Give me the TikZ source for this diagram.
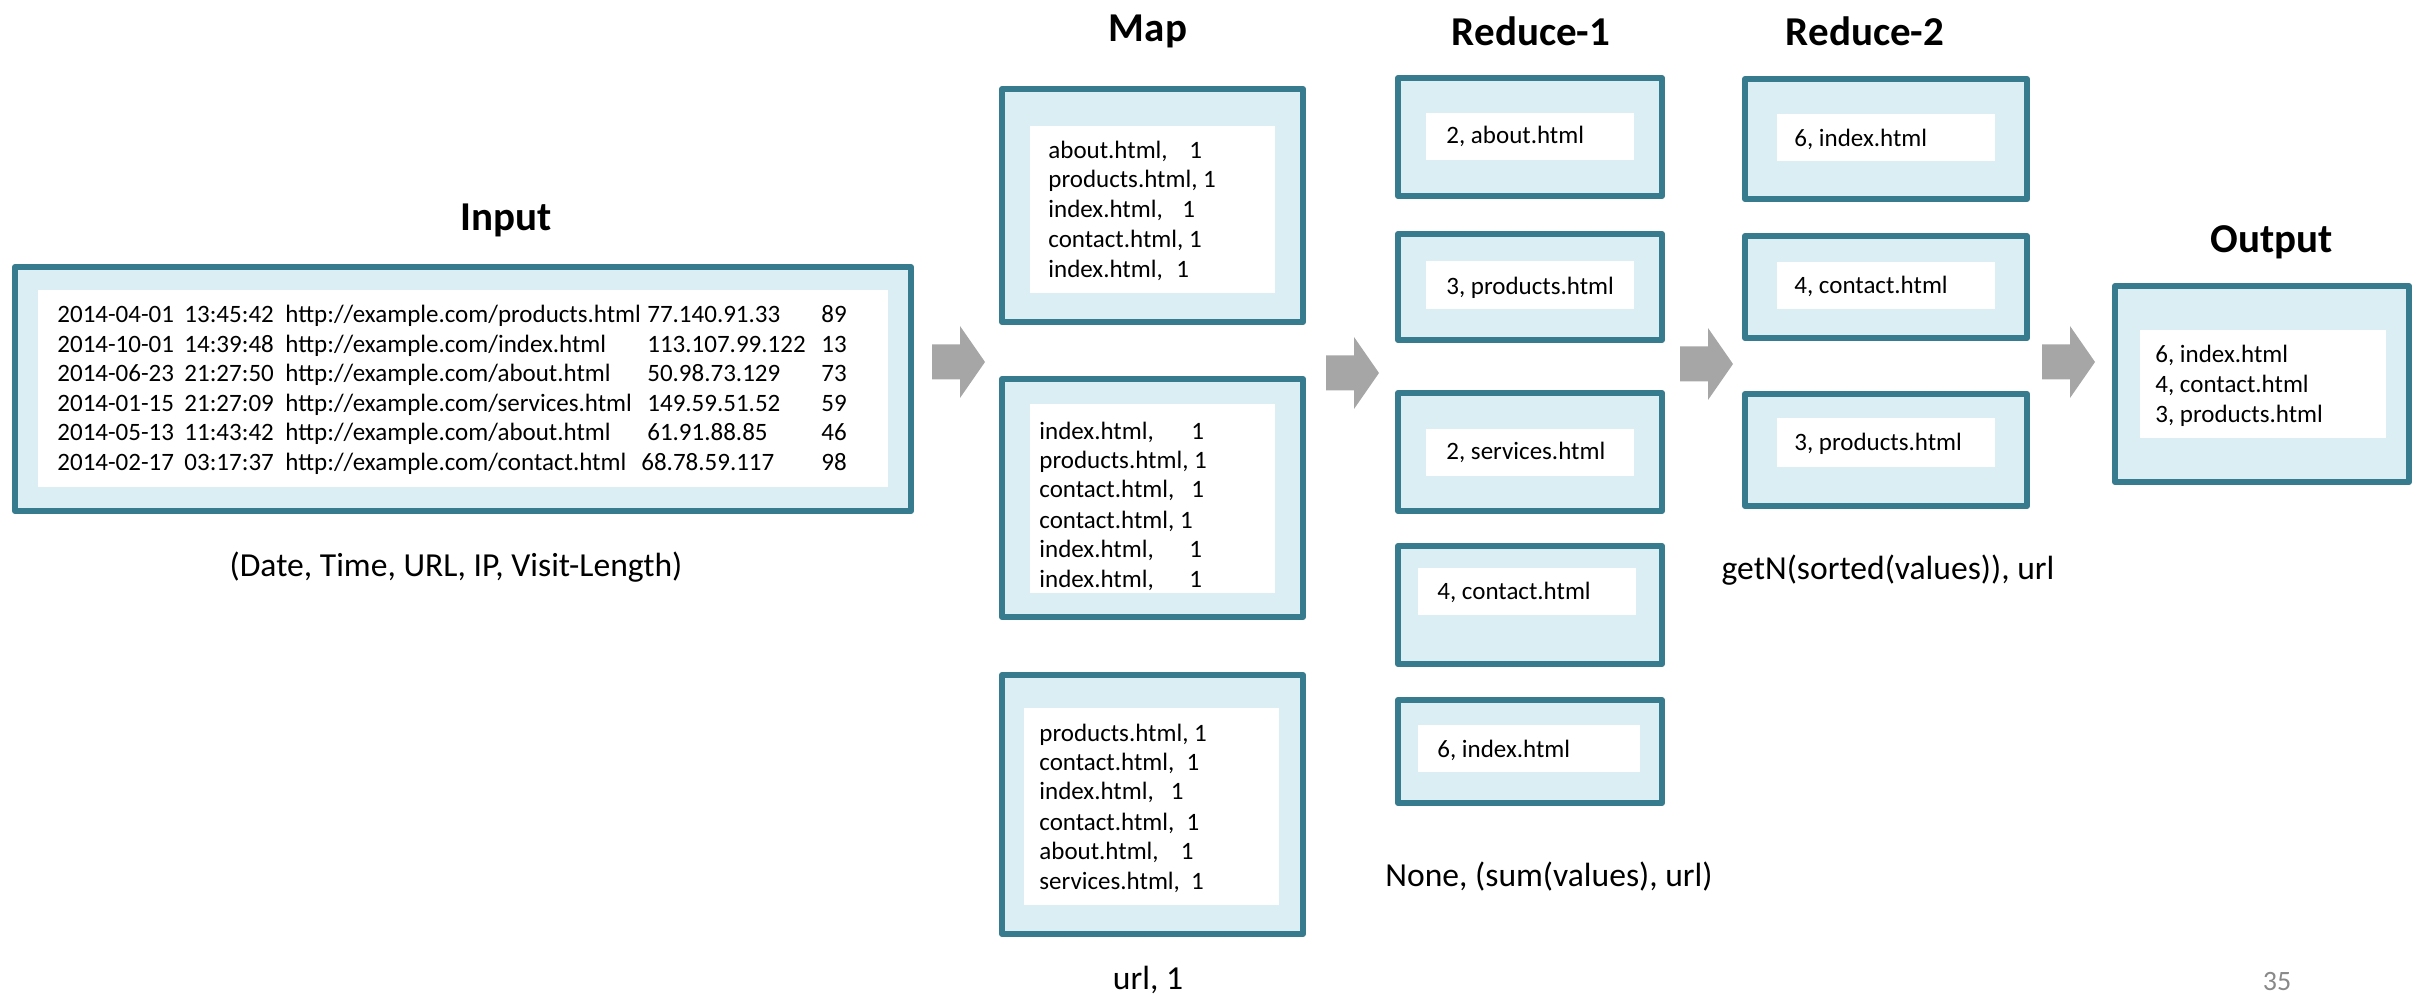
\documentclass[tikz,border=0pt]{standalone}
\usepackage{fontspec}
\setmainfont{Carlito}
\usetikzlibrary{fit}
\definecolor{bordc}{RGB}{54,124,142}
\definecolor{fillc}{RGB}{218,238,243}
\definecolor{arrc}{RGB}{166,166,166}
\definecolor{pgc}{RGB}{137,137,137}
\newcommand\inrow[5]{\makebox[63.5pt][l]{#1}\makebox[50.5pt][l]{#2}\makebox[181pt][l]{#3}\makebox[87pt][l]{#4}#5}
\newcommand\kv[2]{\makebox[#1][l]{#2}1}
\newcommand\blockarr[2]{\fill[arrc] (#1,#2-17.5) -- (#1+28,#2-17.5) -- (#1+28,#2-36) -- (#1+53,#2) -- (#1+28,#2+36) -- (#1+28,#2+17.5) -- (#1,#2+17.5) -- cycle;}
\begin{document}
\begin{tikzpicture}[x=0.5pt,y=-0.5pt,
 obox/.style={draw=bordc, fill=fillc, line width=3pt, inner sep=0pt, line join=round},
 wbox/.style={fill=white, draw=none, inner sep=0pt},
 tx/.style={anchor=base west, inner sep=0pt, font=\fontsize{12.5}{15}\selectfont},
 ttl/.style={font=\fontsize{20.5}{24}\selectfont\bfseries, inner sep=0pt},
 lbl/.style={font=\fontsize{16.8}{20}\selectfont, inner sep=0pt},
]
\useasboundingbox (0,0) rectangle (2417,999);

% titles
\node[ttl] (tin) at (506,220) {Input};
\node[ttl] (tmap) at (1148,31) {Map};
\node[ttl] (tr1) at (1531,31) {Reduce-1};
\node[ttl] (tr2) at (1865,31) {Reduce-2};
\node[ttl] (tout) at (2272,242) {Output};

% input
\node[obox, fit={(15,267) (911,511)}] (inbox) {};
\node[wbox, fit={(38,290) (888,487)}] (inw) {};
\node[tx] (in1) at (57,323) {\inrow{2014-04-01}{13:45:42}{http://example.com/products.html}{77.140.91.33}{89}};
\node[tx] (in2) at (57,353) {\inrow{2014-10-01}{14:39:48}{http://example.com/index.html}{113.107.99.122}{13}};
\node[tx] (in3) at (57,382) {\inrow{2014-06-23}{21:27:50}{http://example.com/about.html}{50.98.73.129}{73}};
\node[tx] (in4) at (57,412) {\inrow{2014-01-15}{21:27:09}{http://example.com/services.html}{149.59.51.52}{59}};
\node[tx] (in5) at (57,441) {\inrow{2014-05-13}{11:43:42}{http://example.com/about.html}{61.91.88.85}{46}};
\node[tx] (in6) at (57,471) {\inrow{2014-02-17}{03:17:37}{http://example.com/contact.html}{\hspace{-3pt}68.78.59.117}{98}};
\node[lbl] (inl) at (456,567) {(Date, Time, URL, IP, Visit-Length)};

% map
\node[obox, fit={(1002,89) (1303,322)}] (map1) {};
\node[wbox, fit={(1030,126) (1275,293)}] (map1w) {};
\node[tx] (m1a) at (1048,159) {\kv{70.5pt}{about.html,}};
\node[tx] (m1b) at (1048,188) {products.html, 1};
\node[tx] (m1c) at (1048,218) {\kv{67pt}{index.html,}};
\node[tx] (m1d) at (1048,248) {contact.html, 1};
\node[tx] (m1e) at (1048,278) {\kv{64pt}{index.html,}};

\node[obox, fit={(1002,379) (1303,617)}] (map2) {};
\node[wbox, fit={(1030,404) (1275,593)}] (map2w) {};
\node[tx] (m2a) at (1039,440) {\kv{76pt}{index.html,}};
\node[tx] (m2b) at (1039,469) {products.html, 1};
\node[tx] (m2c) at (1039,498) {\kv{76pt}{contact.html,}};
\node[tx] (m2d) at (1039,529) {contact.html, 1};
\node[tx] (m2e) at (1039,558) {\kv{75pt}{index.html,}};
\node[tx] (m2f) at (1039,588) {\kv{75pt}{index.html,}};

\node[obox, fit={(1002,675) (1303,934)}] (map3) {};
\node[wbox, fit={(1024,708) (1279,905)}] (map3w) {};
\node[tx] (m3a) at (1039,742) {products.html, 1};
\node[tx] (m3b) at (1039,771) {\kv{73.6pt}{contact.html,}};
\node[tx] (m3c) at (1039,800) {\kv{65.7pt}{index.html,}};
\node[tx] (m3d) at (1039,831) {\kv{73.6pt}{contact.html,}};
\node[tx] (m3e) at (1039,860) {\kv{70.7pt}{about.html,}};
\node[tx] (m3f) at (1039,890) {\kv{75.9pt}{services.html,}};
\node[lbl] (mapl) at (1148,980) {url, 1};

% reduce-1
\node[obox, fit={(1398,78) (1662,196)}] (r1a) {};
\node[wbox, fit={(1426,113) (1634,160)}] (r1aw) {};
\node[tx] (r1at) at (1446,144) {2, about.html};
\node[obox, fit={(1398,234) (1662,340)}] (r1b) {};
\node[wbox, fit={(1426,261) (1634,309)}] (r1bw) {};
\node[tx] (r1bt) at (1446,295) {3, products.html};
\node[obox, fit={(1398,393) (1662,511)}] (r1c) {};
\node[wbox, fit={(1426,429) (1634,476)}] (r1cw) {};
\node[tx] (r1ct) at (1446,460) {2, services.html};
\node[obox, fit={(1398,546) (1662,664)}] (r1d) {};
\node[wbox, fit={(1418,568) (1636,615)}] (r1dw) {};
\node[tx] (r1dt) at (1437,600) {4, contact.html};
\node[obox, fit={(1398,700) (1662,803)}] (r1e) {};
\node[wbox, fit={(1418,725) (1640,772)}] (r1ew) {};
\node[tx] (r1et) at (1437,758) {6, index.html};
\node[lbl] (r1l) at (1549,877) {None, (sum(values), url)};

% reduce-2
\node[obox, fit={(1745,79) (2027,199)}] (r2a) {};
\node[wbox, fit={(1777,114) (1995,161)}] (r2aw) {};
\node[tx] (r2at) at (1794,147) {6, index.html};
\node[obox, fit={(1745,236) (2027,338)}] (r2b) {};
\node[wbox, fit={(1777,262) (1995,309)}] (r2bw) {};
\node[tx] (r2bt) at (1794,294) {4, contact.html};
\node[obox, fit={(1745,394) (2027,506)}] (r2c) {};
\node[wbox, fit={(1777,418) (1995,467)}] (r2cw) {};
\node[tx] (r2ct) at (1794,451) {3, products.html};
\node[lbl] (r2l) at (1888,570) {getN(sorted(values)), url};

% output
\node[obox, fit={(2115,286) (2409,482)}] (outb) {};
\node[wbox, fit={(2140,330) (2386,438)}] (outw) {};
\node[tx] (o1) at (2155,363) {6, index.html};
\node[tx] (o2) at (2155,393) {4, contact.html};
\node[tx] (o3) at (2155,423) {3, products.html};

% arrows
\blockarr{932}{362}
\blockarr{1326}{373}
\blockarr{1680}{364}
\blockarr{2042}{362}

\node[font=\fontsize{14}{16}\selectfont, text=pgc, inner sep=0pt] (pg) at (2277,982) {35};
\end{tikzpicture}
\end{document}
